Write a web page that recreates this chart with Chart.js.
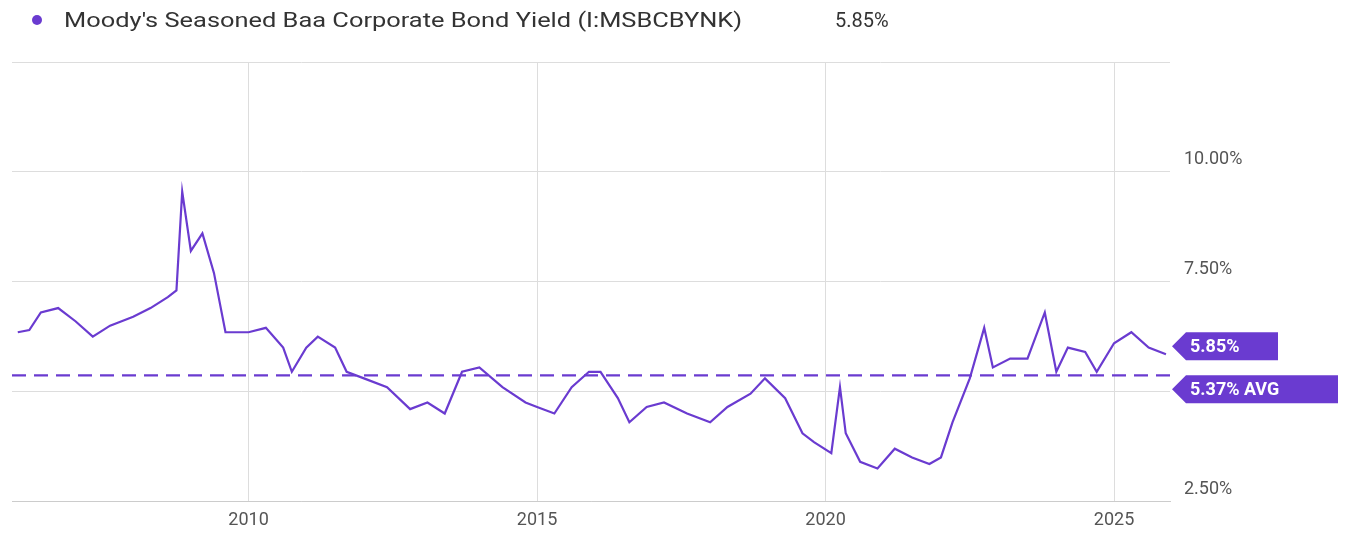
<!DOCTYPE html>
<html><head><meta charset="utf-8">
<script src="https://cdn.jsdelivr.net/npm/chart.js@4"></script>
<style>
body{margin:0;background:#fff;font-family:Roboto,sans-serif;}
#wrap{position:relative;width:1347px;height:549px;}
#leg{position:absolute;left:32px;top:8px;font-size:20px;color:#333;white-space:nowrap}
#leg .t{display:inline-block;transform:scaleX(1.27);transform-origin:left center}
#leg .dot{display:inline-block;width:10px;height:10px;border-radius:50%;background:#6a3bd0;margin-right:22px;vertical-align:middle;position:relative;top:-2px}
#leg .v{position:absolute;left:803px;top:0}
</style></head><body>
<div id="wrap"><canvas id="c" width="1347" height="549"></canvas>
<div id="leg"><span class="dot"></span><span class="t">Moody's Seasoned Baa Corporate Bond Yield (I:MSBCBYNK)</span><span class="v">5.85%</span></div></div>
<script>
const years=[2006.0,2006.2,2006.4,2006.7,2007.0,2007.3,2007.6,2007.8,2008.0,2008.3,2008.6,2008.75,2008.85,2009.0,2009.2,2009.4,2009.6,2010.0,2010.3,2010.6,2010.75,2011.0,2011.2,2011.5,2011.7,2012.0,2012.4,2012.8,2013.1,2013.4,2013.7,2014.0,2014.4,2014.8,2015.0,2015.3,2015.6,2015.9,2016.1,2016.4,2016.6,2016.9,2017.2,2017.6,2018.0,2018.3,2018.7,2018.95,2019.3,2019.6,2019.8,2020.1,2020.25,2020.35,2020.6,2020.9,2021.2,2021.5,2021.8,2022.0,2022.2,2022.5,2022.75,2022.9,2023.2,2023.5,2023.8,2024.0,2024.2,2024.5,2024.7,2025.0,2025.3,2025.6,2025.9];
const yields=[6.35,6.4,6.8,6.9,6.6,6.25,6.5,6.6,6.7,6.9,7.15,7.3,9.55,8.2,8.6,7.7,6.35,6.35,6.45,6.0,5.45,6.0,6.25,6.0,5.45,5.3,5.1,4.6,4.75,4.5,5.45,5.55,5.1,4.75,4.65,4.5,5.1,5.45,5.45,4.85,4.3,4.65,4.75,4.5,4.3,4.65,4.95,5.3,4.85,4.05,3.85,3.6,5.1,4.05,3.4,3.25,3.7,3.5,3.35,3.5,4.3,5.3,6.45,5.55,5.75,5.75,6.8,5.45,6.0,5.9,5.45,6.1,6.35,6.0,5.85];
const avg=5.37, last=5.85;
const purple='#6a3bd0';
const badges={id:'badges',afterDraw(ch){const c=ch.ctx,y=ch.scales.y,x0=ch.chartArea.right+2;
 [[last,last.toFixed(2)+'%'],[avg,avg.toFixed(2)+'% AVG']].forEach(([v,t],i)=>{let yy=y.getPixelForValue(v)+(i==1?14:-8);
 c.fillStyle=purple;c.beginPath();c.moveTo(x0,yy);c.lineTo(x0+14,yy-14);c.lineTo(i?1338:1278,yy-14);c.lineTo(i?1338:1278,yy+14);c.lineTo(x0+14,yy+14);c.closePath();c.fill();
 c.fillStyle='#fff';c.font='bold 18px Roboto';c.textBaseline='middle';c.fillText(t,x0+18,yy+1);});}};
new Chart(document.getElementById('c'),{type:'line',
data:{datasets:[{data:years.map((x,i)=>({x,y:yields[i]})),borderColor:purple,borderWidth:2.2,pointRadius:0,tension:0},
{data:[{x:2005.9,y:avg},{x:2025.97,y:avg}],borderColor:purple,borderWidth:2.2,borderDash:[14,8],pointRadius:0}]},
options:{animation:false,responsive:false,plugins:{legend:{display:false},tooltip:{enabled:false}},
layout:{padding:{top:62,left:12,right:0,bottom:10}},
scales:{x:{type:'linear',min:2005.9,max:2025.97,afterBuildTicks(a){a.ticks=[2010,2015,2020,2025].map(v=>({value:v}));},
 ticks:{callback:v=>String(v),color:'#555',font:{size:18,family:'Roboto'},padding:8,maxRotation:0},grid:{color:'#ddd',drawTicks:false},border:{color:'#ccc'}},
 y:{position:'right',min:2.5,max:12.5,afterFit(a){a.width=177;},ticks:{stepSize:2.5,labelOffset:-12,padding:14,color:'#555',font:{size:18,family:'Roboto'},callback:v=>(v==5||v==12.5)?'':v.toFixed(2)+'%'},
 grid:{color:'#ddd',drawTicks:false},border:{display:false}}}},plugins:[badges]});
</script></body></html>
